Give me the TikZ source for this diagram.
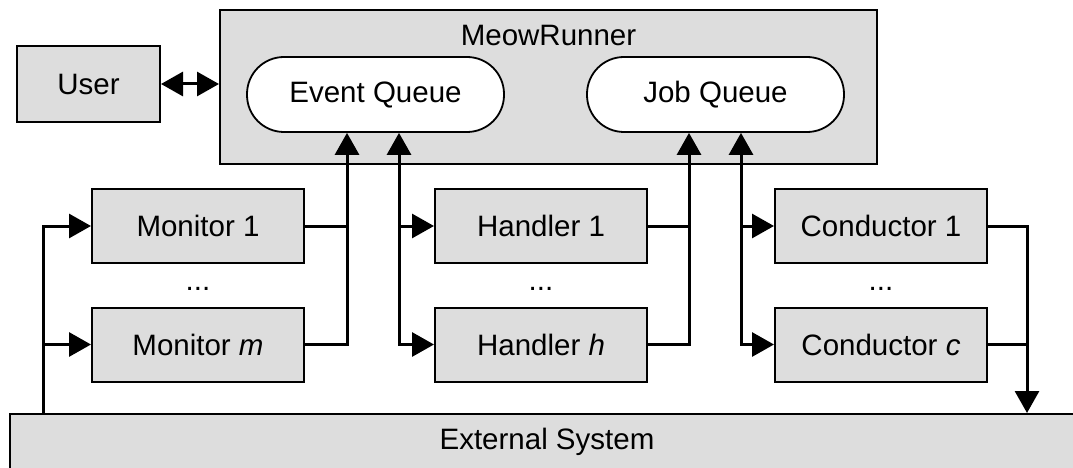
\documentclass[tikz,border=0pt]{standalone}
\usepackage{fontspec}
\setmainfont{Liberation Sans}
\usetikzlibrary{arrows.meta}
\definecolor{boxgray}{HTML}{DDDDDD}
\begin{document}
\begin{tikzpicture}[x=1pt,y=-1pt,
  font=\fontsize{29.5}{35}\selectfont,
  box/.style={draw, line width=2pt, fill=boxgray, inner sep=0pt},
  unit/.style={box, minimum width=212pt, minimum height=74pt},
  pill/.style={draw, line width=1.8pt, fill=white, rounded corners=37pt,
    minimum width=257pt, minimum height=75pt, inner sep=0pt},
  wire/.style={line width=3pt},
  tip/.tip={Triangle[length=22pt,width=24pt]},
  arr/.style={wire, -tip},
  biarr/.style={wire, tip-tip},
  dots/.style={anchor=base, inner sep=0pt},
]
\useasboundingbox (0,0) rectangle (1073,468);

% external system along the bottom edge
\node[box, minimum width=1074pt, minimum height=56pt] (ext) at (547,442) {External System};

% user and the runner with its two queues
\node[box, minimum width=143pt, minimum height=76pt] (user) at (88.5,84) {User};
\node[box, minimum width=657pt, minimum height=154pt] (runner) at (548.5,87) {};
\node[anchor=base, inner sep=0pt] (title) at (548.5,46) {MeowRunner};
\node[pill] (eq) at (375.5,94.5) {Event Queue};
\node[pill] (jq) at (715.5,94.5) {Job Queue};

% monitors, handlers, conductors
\node[unit] (m1) at (198,226) {Monitor 1};
\node[unit] (mm) at (198,344.5) {Monitor \textit{m}};
\node[unit] (h1) at (541,226) {Handler 1};
\node[unit] (hh) at (541,344.5) {Handler \textit{h}};
\node[unit] (c1) at (881,226) {Conductor 1};
\node[unit] (cc) at (881,344.5) {Conductor \textit{c}};
\node[dots] (md) at (198,290) {...};
\node[dots] (hd) at (541,290) {...};
\node[dots] (cd) at (881,290) {...};

% attachment points
\coordinate (evin)  at ([xshift=-28.5pt]eq.south);
\coordinate (evout) at ([xshift=23.5pt]eq.south);
\coordinate (jbin)  at ([xshift=-26.5pt]jq.south);
\coordinate (jbout) at ([xshift=25.5pt]jq.south);
\coordinate (extout) at ([xshift=-504pt]ext.north);
\coordinate (extin)  at ([xshift=480pt]ext.north);

% user <-> runner
\draw[biarr] (user.east) -- (runner.west |- user.east);

% external system -> monitors
\draw[arr] (extout) |- (m1.west);
\draw[arr] (extout |- mm.west) -- (mm.west);

% monitors -> event queue
\draw[arr] (m1.east) -| (evin);
\draw[wire] (mm.east) -| (evin |- m1.east);

% event queue <-> handlers
\draw[biarr] (evout) |- (hh.west);
\draw[arr] (evout |- h1.west) -- (h1.west);

% handlers -> job queue
\draw[arr] (h1.east) -| (jbin);
\draw[wire] (hh.east) -| (jbin |- h1.east);

% job queue <-> conductors
\draw[biarr] (jbout) |- (cc.west);
\draw[arr] (jbout |- c1.west) -- (c1.west);

% conductors -> external system
\draw[arr] (c1.east) -| (extin);
\draw[wire] (cc.east) -- (extin |- cc.east);
\end{tikzpicture}
\end{document}
